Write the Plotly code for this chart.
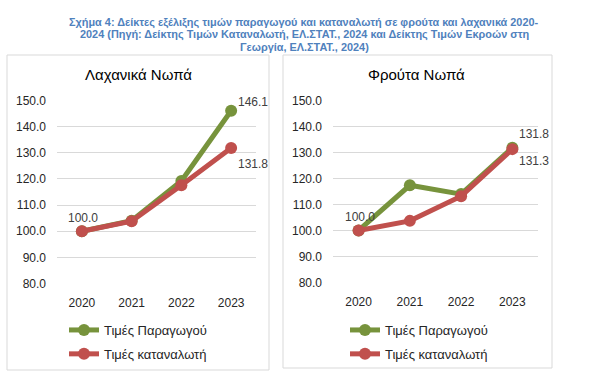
import plotly.graph_objects as go

W, H = 606, 388

years = ["2020", "2021", "2022", "2023"]
veg_producer = [100.0, 104.0, 119.2, 146.1]
veg_consumer = [100.0, 103.8, 117.6, 131.8]
fruit_producer = [100.0, 117.4, 114.0, 131.8]
fruit_consumer = [100.0, 103.7, 113.2, 131.3]

veg_producer_labels = ["100.0", "", "", "146.1"]
veg_consumer_labels = ["", "", "", "131.8"]
fruit_producer_labels = ["100.0", "", "", "131.8"]
fruit_consumer_labels = ["", "", "", "131.3"]

y_ticks = [80, 90, 100, 110, 120, 130, 140, 150]

title_lines = [
    "Σχήμα 4: Δείκτες εξέλιξης τιμών παραγωγού και καταναλωτή σε φρούτα και λαχανικά 2020-",
    "2024 (Πηγή: Δείκτης Τιμών Καταναλωτή, ΕΛ.ΣΤΑΤ., 2024 και Δείκτης Τιμών Εκροών στη",
    "Γεωργία, ΕΛ.ΣΤΑΤ., 2024)",
]

GREEN = "#77933C"
RED = "#C0504D"
TXT = "#404040"
FONT = "Liberation Sans, Arial, sans-serif"

def px(x):
    return x / W

def py(y):
    return 1 - y / H

fig = go.Figure()
annotations = []

def add_series(y, labels, name, color, xa, ya, legend, group, end_shift):
    fig.add_trace(go.Scatter(
        x=years, y=y, name=name, mode="lines+markers",
        line=dict(color=color, width=5),
        marker=dict(color=color, size=12),
        xaxis=xa, yaxis=ya, legend=legend, legendgroup=group, cliponaxis=False,
    ))
    n = len(years)
    for i, (yv, lab) in enumerate(zip(y, labels)):
        if not lab:
            continue
        if i == n - 1:
            xanchor, xshift, yshift = "left", 5, end_shift
        else:
            xanchor, xshift, yshift = "center", 1, 13
        annotations.append(dict(
            text=lab, x=i, y=yv, xref=xa, yref=ya, xanchor=xanchor, yanchor="middle",
            xshift=xshift, yshift=yshift, showarrow=False,
            font=dict(size=12, color=TXT, family=FONT)))

add_series(veg_producer, veg_producer_labels, "Τιμές Παραγωγού", GREEN, "x", "y", "legend", "a1", 9)
add_series(veg_consumer, veg_consumer_labels, "Τιμές καταναλωτή", RED, "x", "y", "legend", "a2", -16)
add_series(fruit_producer, fruit_producer_labels, "Τιμές Παραγωγού", GREEN, "x2", "y2", "legend2", "b1", 14)
add_series(fruit_consumer, fruit_consumer_labels, "Τιμές καταναλωτή", RED, "x2", "y2", "legend2", "b2", -12)

xcommon = dict(type="category", categoryorder="array", categoryarray=years,
               range=[-0.5, len(years) - 0.5],
               showgrid=False, zeroline=False, showline=False, ticks="",
               tickfont=dict(size=12, color="#262626", family=FONT),
               ticklabelstandoff=10, fixedrange=True, automargin=False)
ycommon = dict(range=[79.8, 150.2], tickvals=y_ticks, tickformat=".1f",
               showgrid=True, gridcolor="#D9D9D9", gridwidth=1, zeroline=False,
               showline=False, ticks="", ticklabelstandoff=10, automargin=False,
               fixedrange=True,
               tickfont=dict(size=12, color="#262626", family=FONT))

legcommon = dict(orientation="v", font=dict(size=13, color="#262626", family=FONT),
                 bgcolor="rgba(0,0,0,0)", tracegroupgap=4, itemwidth=30,
                 xanchor="left", yanchor="top")

fig.update_layout(
    width=W, height=H,
    margin=dict(l=0, r=0, t=0, b=0, pad=0, autoexpand=False),
    paper_bgcolor="white", plot_bgcolor="white",
    xaxis=dict(domain=[px(57), px(256)], anchor="y", **xcommon),
    yaxis=dict(domain=[py(284), py(100)], anchor="x", **ycommon),
    xaxis2=dict(domain=[px(333), px(538)], anchor="y2", **xcommon),
    yaxis2=dict(domain=[py(283), py(100)], anchor="x2", **ycommon),
    legend=dict(x=px(64), y=py(315), **legcommon),
    legend2=dict(x=px(345), y=py(315), **legcommon),
    showlegend=True,
)

shapes = []
for (x0, y0, x1, y1) in [(7, 55, 269, 370), (283, 55, 552, 368)]:
    shapes.append(dict(type="rect", xref="paper", yref="paper",
                       x0=px(x0), x1=px(x1), y0=py(y1), y1=py(y0),
                       line=dict(color="#D9D9D9", width=1), fillcolor="rgba(0,0,0,0)"))
fig.update_layout(shapes=shapes)

for i, line in enumerate(title_lines):
    annotations.append(dict(text="<b>" + line + "</b>", x=px(304), y=py(22 + 12.5 * i),
                            xref="paper", yref="paper",
                            xanchor="center", yanchor="middle", showarrow=False,
                            font=dict(size=10.9, color="#4F81BD", family=FONT)))
annotations += [
    dict(text="Λαχανικά Νωπά", x=px(138), y=py(75), xref="paper", yref="paper",
         xanchor="center", yanchor="middle",
         showarrow=False, font=dict(size=15, color="#000000", family=FONT)),
    dict(text="Φρούτα Νωπά", x=px(417), y=py(75), xref="paper", yref="paper",
         xanchor="center", yanchor="middle",
         showarrow=False, font=dict(size=15, color="#000000", family=FONT)),
]
fig.update_layout(annotations=annotations)

fig.write_html("out.html", config={"displayModeBar": False},
               post_script="document.body.style.margin='0';document.body.style.overflow='hidden';")
